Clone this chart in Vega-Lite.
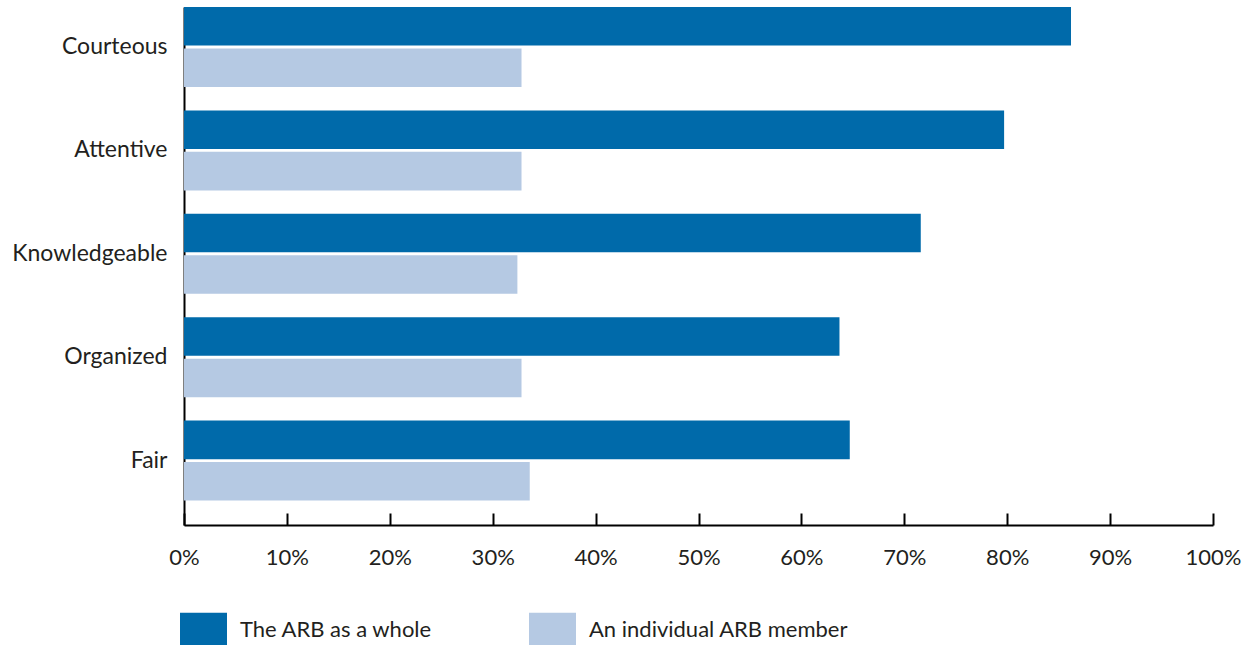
{
  "$schema": "https://vega.github.io/schema/vega-lite/v6.json",
  "width": 1029,
  "height": 518,
  "autosize": "none",
  "padding": {"left": 184, "top": 7, "right": 30, "bottom": 120},
  "background": "white",
  "data": {
    "values": [
      {"category": "Courteous", "group": "The ARB as a whole", "value": 86.2},
      {"category": "Courteous", "group": "An individual ARB member", "value": 32.8},
      {"category": "Attentive", "group": "The ARB as a whole", "value": 79.7},
      {"category": "Attentive", "group": "An individual ARB member", "value": 32.8},
      {"category": "Knowledgeable", "group": "The ARB as a whole", "value": 71.6},
      {"category": "Knowledgeable", "group": "An individual ARB member", "value": 32.4},
      {"category": "Organized", "group": "The ARB as a whole", "value": 63.7},
      {"category": "Organized", "group": "An individual ARB member", "value": 32.8},
      {"category": "Fair", "group": "The ARB as a whole", "value": 64.7},
      {"category": "Fair", "group": "An individual ARB member", "value": 33.6}
    ]
  },
  "mark": {"type": "bar", "strokeWidth": 0},
  "encoding": {
    "y": {
      "field": "category",
      "type": "nominal",
      "sort": ["Courteous", "Attentive", "Knowledgeable", "Organized", "Fair"],
      "scale": {"paddingInner": 0.226, "paddingOuter": 0.118, "align": 0},
      "axis": {
        "title": null,
        "ticks": false,
        "domain": true,
        "domainColor": "#000000",
        "domainWidth": 2,
        "labelPadding": 17,
        "labelFontSize": 23,
        "labelFont": "Lato",
        "labelColor": "#231f20",
        "labelLimit": 300
      }
    },
    "yOffset": {
      "field": "group",
      "type": "nominal",
      "sort": ["The ARB as a whole", "An individual ARB member"],
      "scale": {"paddingInner": 0.07}
    },
    "x": {
      "field": "value",
      "type": "quantitative",
      "scale": {"domain": [0, 100], "nice": false},
      "axis": {
        "title": null,
        "values": [0, 10, 20, 30, 40, 50, 60, 70, 80, 90, 100],
        "labelExpr": "datum.value + '%'",
        "grid": false,
        "domainColor": "#000000",
        "domainWidth": 2,
        "tickColor": "#000000",
        "tickWidth": 2,
        "tickSize": -12,
        "labelPadding": 34,
        "labelFontSize": 22,
        "labelFont": "Lato",
        "labelColor": "#231f20",
        "labelFlush": false
      }
    },
    "color": {
      "field": "group",
      "type": "nominal",
      "scale": {
        "domain": ["The ARB as a whole", "An individual ARB member"],
        "range": ["#006aaa", "#b5c9e3"]
      },
      "legend": {
        "title": null,
        "orient": "none",
        "direction": "horizontal",
        "legendX": -4,
        "legendY": 599,
        "symbolType": "M-1,-0.723H1V0.723H-1Z",
        "symbolSize": 2209,
        "symbolStrokeWidth": 0,
        "symbolOpacity": 1,
        "labelFontSize": 22,
        "labelFont": "Lato",
        "labelColor": "#231f20",
        "labelOffset": 13,
        "columnPadding": 96,
        "labelLimit": 400
      }
    }
  },
  "config": {"view": {"stroke": null}}
}
